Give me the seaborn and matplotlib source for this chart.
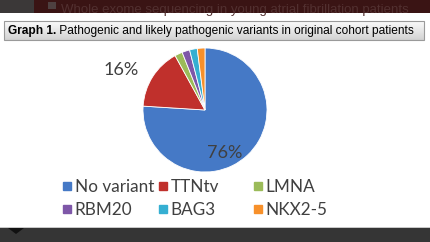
import matplotlib
matplotlib.use("Agg")
import matplotlib.pyplot as plt
import matplotlib.patches as mpatches
import matplotlib.transforms as mtrans
from matplotlib.lines import Line2D
import numpy as np
import seaborn as sns

categories = ["No variant", "TTNtv", "LMNA", "RBM20", "BAG3", "NKX2-5"]
values = [76, 16, 2, 2, 2, 2]
colors = ["#4579C6", "#C0302C", "#9BBB59", "#7E57A8", "#35AFD2", "#F7902A"]
title_bold = "Graph 1."
title_rest = " Pathogenic and likely pathogenic variants in original cohort patients"
banner_text = "Whole exome sequencing in young atrial fibrillation patients"

sns.set_theme(style="white")
plt.rcParams["font.family"] = ["Lato", "DejaVu Sans"]

W, H = 430, 242
fig = plt.figure(figsize=(W / 100, H / 100), dpi=100)
fig.patch.set_facecolor("white")

def px(x0, y0, w, h):
    return [x0 / W, 1 - (y0 + h) / H, w / W, h / H]

# background decoration
bg = fig.add_axes([0, 0, 1, 1], zorder=0)
bg.axis("off")
banner = mpatches.Rectangle((0, 0), W, 13, color="#3a1414", lw=0)
bg.add_patch(banner)
bg.add_patch(mpatches.Rectangle((0, 0), 34, 13, color="#3b3838", lw=0))
bg.add_patch(mpatches.Rectangle((48, 2), 8, 7, color="#4e4040", lw=0))
bt = bg.text(235, 10, banner_text, color="#523030", fontsize=9.5, ha="center", va="center",
             family="Liberation Sans")
bt.set_clip_path(banner)
bg.add_patch(mpatches.Rectangle((0, 228), W, 14, color="#353535", lw=0))
bg.add_patch(mpatches.Rectangle((0, 227), W, 1.2, color="#c8c8c8", lw=0))
bg.add_patch(mpatches.Polygon([(8, 228), (24, 228), (16, 234)], color="#111111", lw=0))

grad = np.linspace(0, 1, 50).reshape(-1, 1)
bg.imshow(grad, extent=(4, 424, 40, 21),
          cmap=matplotlib.colors.LinearSegmentedColormap.from_list("g", ["#fbfbfb", "#d2d2d2"]),
          aspect="auto", zorder=1)
bg.add_patch(mpatches.Rectangle((4, 21), 420, 19, fill=False, ec="#9a9a9a", lw=0.8, zorder=2))
bg.set_xlim(0, W); bg.set_ylim(H, 0)

fs_title = 8.55
t1 = bg.text(7.5, 31, title_bold, fontsize=fs_title, fontweight="bold", color="black",
             va="center", ha="left", family="Liberation Sans", zorder=3)
fig.canvas.draw()
x_end = t1.get_window_extent().x1
bg.text(x_end, 31, title_rest, fontsize=fs_title, color="black", va="center", ha="left",
        family="Liberation Sans", zorder=3,
        transform=mtrans.blended_transform_factory(mtrans.IdentityTransform(), bg.transData))

# pie
cx, cy, r = 205, 110, 62
ax = fig.add_axes(px(cx - r, cy - r, 2 * r, 2 * r), zorder=2)
wedges, _ = ax.pie(values, colors=colors, startangle=90, counterclock=False,
                   wedgeprops=dict(edgecolor="white", linewidth=0.6))
ax.set_xlim(-1, 1); ax.set_ylim(-1, 1)
ax.text(0.32, -0.7, "76%", fontsize=13, color="#404040", ha="center", va="center")
ax.text(-1.36, 0.64, "16%", fontsize=13, color="#404040", ha="center", va="center")

# legend in 3 equal columns
col_x = [62, 158, 253]
order = [[0, 3], [1, 4], [2, 5]]
for cx_, idxs in zip(col_x, order):
    handles = [Line2D([], [], marker="s", ls="", color=colors[i], markersize=5.8) for i in idxs]
    labels = [categories[i] for i in idxs]
    leg = fig.legend(handles, labels, loc="upper left",
                     bbox_to_anchor=(cx_ / W, 1 - 179 / H), frameon=False,
                     fontsize=12.3, handlelength=0.6, handletextpad=0.15,
                     labelspacing=0.4, borderpad=0, borderaxespad=0)
    for t in leg.get_texts():
        t.set_color("#404040")

fig.savefig("out.png", dpi=100)
